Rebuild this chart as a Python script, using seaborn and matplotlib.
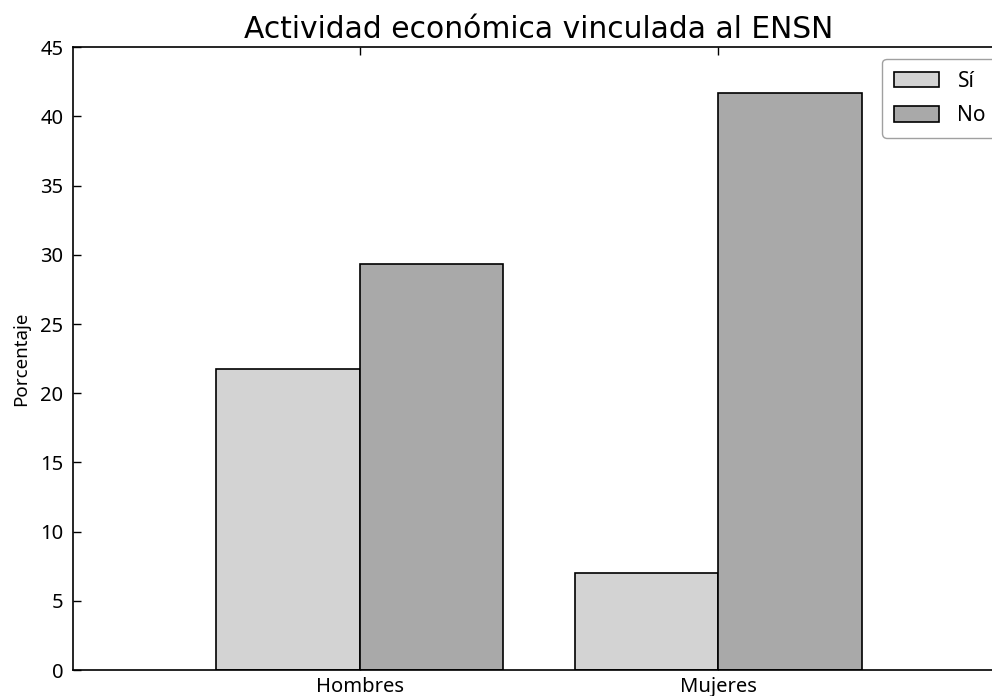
import matplotlib
matplotlib.use("Agg")
import matplotlib.pyplot as plt
import seaborn as sns
import pandas as pd

categories = ["Hombres", "Mujeres"]
respuestas = ["Sí", "No"]
valores_si = [21.75, 6.99]
valores_no = [29.34, 41.67]
colores = ["#d3d3d3", "#a9a9a9"]

df = pd.DataFrame({
    "grupo": categories * 2,
    "respuesta": [respuestas[0]] * 2 + [respuestas[1]] * 2,
    "valor": valores_si + valores_no,
})

sns.set_style("ticks")
plt.rcParams["font.family"] = ["Noto Sans", "DejaVu Sans"]
plt.rcParams["text.color"] = "black"
plt.rcParams["axes.labelcolor"] = "black"
plt.rcParams["xtick.color"] = "black"
plt.rcParams["ytick.color"] = "black"

fig = plt.figure(figsize=(9.92, 6.96), dpi=100)
ax = fig.add_axes([73 / 992, 26 / 696, (1005 - 73) / 992, (670 - 47.3) / 696])

sns.barplot(data=df, x="grupo", y="valor", hue="respuesta", hue_order=respuestas,
            order=categories, palette=colores, saturation=1, width=0.8,
            edgecolor="black", linewidth=1.2, ax=ax, errorbar=None)

ax.set_xlim(-0.8, 1.8)
ax.set_ylim(0, 45)
ax.set_yticks(range(0, 46, 5))
for s in ax.spines.values():
    s.set_visible(True)
    s.set_color("black")
    s.set_linewidth(1.2)
ax.tick_params(direction="in", length=6, width=1, top=True, right=True,
               labelsize=14.5, colors="black")
ax.tick_params(axis="y", pad=7)
ax.tick_params(axis="x", pad=5)
ax.set_xlabel("")
ax.set_ylabel("Porcentaje", fontsize=13.5, labelpad=7)
ax.set_title("Actividad económica vinculada al ENSN", fontsize=21.4, pad=7,
             family=["DejaVu Sans"])

leg = ax.legend(loc="upper left", bbox_to_anchor=(0.8685, 0.981), borderaxespad=0,
                fontsize=15, frameon=True, fancybox=True, handlelength=2.15,
                handleheight=0.77, handletextpad=0.9, labelspacing=0.65,
                borderpad=0.55, edgecolor="#888888", title=None)
leg.get_frame().set_linewidth(1.0)

fig.savefig("out.png", dpi=100)
